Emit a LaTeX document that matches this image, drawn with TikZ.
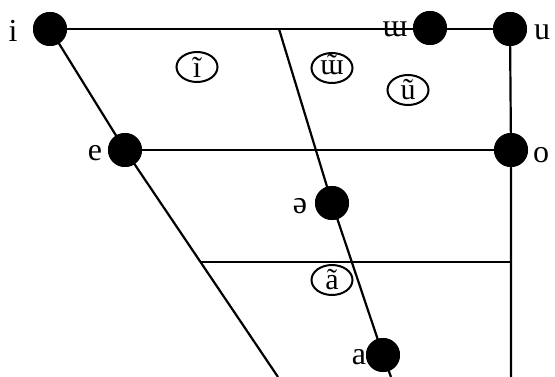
\documentclass[tikz,border=0pt]{standalone}
\usepackage{fontspec}
\setmainfont{Liberation Serif}
\usepackage{tikz}
\usetikzlibrary{shapes.geometric}
\definecolor{VTInk}{HTML}{000000}
\newcommand{\tildeover}[1]{\ooalign{#1\cr\hidewidth˜\hidewidth\cr}}
\tikzset{
  vdot/.style={circle,fill=VTInk,minimum size=34pt,inner sep=0pt},
  vlab/.style={font=\fontsize{32}{32}\selectfont,inner sep=0pt},
  nasal/.style={ellipse,draw=VTInk,line width=2pt,minimum width=41pt,minimum height=30pt,inner sep=0pt,font=\fontsize{30}{30}\selectfont},
  vline/.style={VTInk,line width=2.2pt}
}
\begin{document}
\begin{tikzpicture}[x=1pt,y=-1pt]
\path[use as bounding box] (0,0) rectangle (555,377);
\node[vdot] (i) at (50,29) {};
\node[vdot] (hbk) at (430,28) {};
\node[vdot] (u) at (510,29) {};
\node[vdot] (e) at (125,150) {};
\node[vdot] (o) at (511,150) {};
\node[vdot] (schwa) at (332,203) {};
\node[vdot] (a) at (383,355) {};
\coordinate (mtop) at (279,29);
\coordinate (lbot) at (278,377);
\coordinate (mbot) at (391,377);
\coordinate (rbot) at (511,377);
\coordinate (lowl) at (201,262);
\coordinate (lowr) at (511,262);
% frame lines
\draw[vline] (i.center) -- (u.center);
\draw[vline] (e.center) -- (o.center);
\draw[vline] (lowl) -- (lowr);
\draw[vline] (i.center) -- (e.center) -- (lbot);
\draw[vline] (u.center) -- (o.center) -- (rbot);
\draw[vline] (mtop) -- (schwa.center) -- (a.center) -- (mbot);
% dots on top
\foreach \v in {i,hbk,u,e,o,schwa,a} \fill[VTInk] (\v) circle (17pt);
% labels
\node[vlab] (ilab) at (13,31) {i};
\node[vlab] (hbklab) at (395,29) {ɯ};
\node[vlab] (ulab) at (542,32) {u};
\node[vlab] (elab) at (95,153) {e};
\node[vlab] (olab) at (541,155) {o};
\node[vlab] (schwalab) at (300,206) {ə};
\node[vlab] (alab) at (359,357) {a};
% nasal vowels
\node[nasal] (inas) at (197,67) {ĩ};
\node[nasal] (hbknas) at (332,68) {\tildeover{ɯ}};
\node[nasal] (unas) at (408,90) {ũ};
\node[nasal] (anas) at (332,280) {ã};
\end{tikzpicture}
\end{document}
